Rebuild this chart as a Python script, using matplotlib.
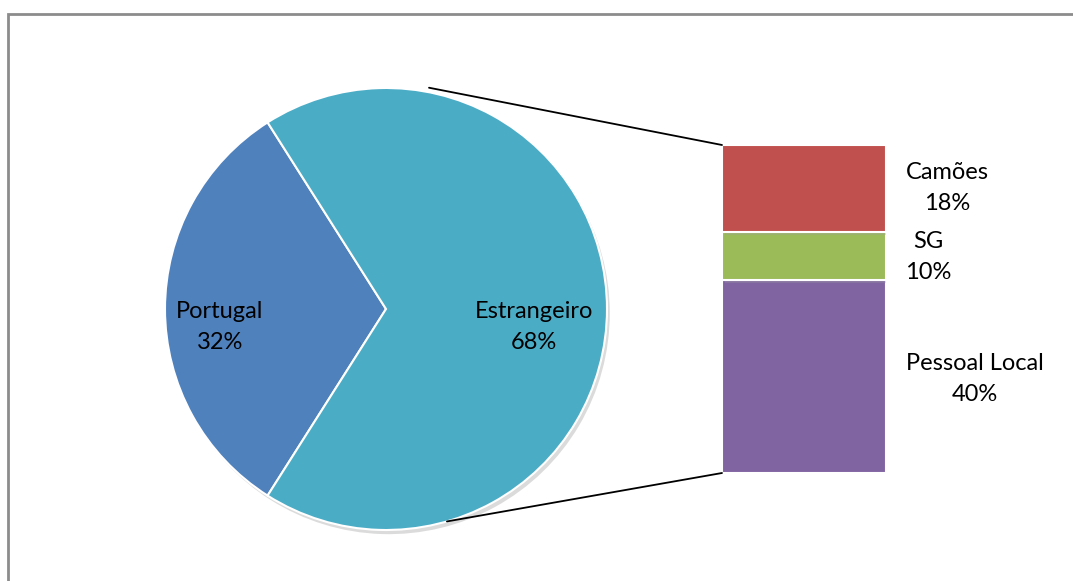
import matplotlib
matplotlib.use("Agg")
import matplotlib.pyplot as plt
import numpy as np
from matplotlib.patches import Rectangle, ConnectionPatch
import matplotlib.patheffects as pe

pie_labels = ["Portugal", "Estrangeiro"]
pie_values = [32, 68]
pie_colors = ["#4F81BD", "#4BACC6"]

bar_labels = ["Pessoal Local", "SG", "Camões"]
bar_values = [40, 10, 18]
bar_colors = ["#8064A2", "#9BBB59", "#C0504D"]

W, H = 1073, 581
fig = plt.figure(figsize=(W / 100, H / 100), dpi=100)
plt.rcParams['font.family'] = ['Lato', 'DejaVu Sans']
FS = 17
LS = 1.55

# outer frame (clipped at right/bottom like reference)
fig.patches.append(Rectangle((8 / W, 0 - 0.02), 1.1, (H - 14) / H + 0.02,
                             transform=fig.transFigure, fill=False,
                             edgecolor="#8c8c8c", linewidth=2))

# main axes in pixel coords (y up)
ax = fig.add_axes([0, 0, 1, 1])
ax.set_xlim(0, W)
ax.set_ylim(0, H)
ax.set_aspect('equal')
ax.axis('off')

cx, cy, r = 386, H - 309, 221
start = 180 - pie_values[0] / 100 * 360 / 2
wedges, _ = ax.pie(pie_values, colors=pie_colors, startangle=start,
                   counterclock=True, center=(cx, cy), radius=r,
                   wedgeprops=dict(edgecolor="white", linewidth=1.5),
                   frame=True)
for w in wedges:
    w.set_path_effects([pe.SimplePatchShadow(offset=(2, -3), shadow_rgbFace="#999999", alpha=0.35), pe.Normal()])
ax.set_xlim(0, W)
ax.set_ylim(0, H)
ax.axis('off')

ax.text(220, H - 327, f"{pie_labels[0]}\n{pie_values[0]}%", ha="center", va="center",
        fontsize=FS, linespacing=LS)
ax.text(534, H - 327, f"{pie_labels[1]}\n{pie_values[1]}%", ha="center", va="center",
        fontsize=FS, linespacing=LS)

# bar axes
bx = fig.add_axes([722 / W, (H - 473) / H, 164 / W, 328 / H])
bottom = 0
for lab, v, c in zip(bar_labels, bar_values, bar_colors):
    b = bx.bar(0, v, bottom=bottom, width=1, color=c, edgecolor="white", linewidth=1.5)
    for p in b:
        p.set_path_effects([pe.SimplePatchShadow(offset=(2, -2), shadow_rgbFace="#999999", alpha=0.3), pe.Normal()])
    bottom += v
total = sum(bar_values)
bx.set_xlim(-0.5, 0.5)
bx.set_ylim(0, total)
bx.axis('off')

# bar labels (positions in pixel coords of main axes)
label_pos = {"Camões": (947, 188), "SG": (928, 257), "Pessoal Local": (975, 379)}
for lab, v in zip(bar_labels, bar_values):
    x, y = label_pos[lab]
    ax.text(x, H - y, f"{lab}\n{v}%", ha="center", va="center", fontsize=FS, linespacing=LS)

# connector lines
a1 = np.deg2rad(79)
a2 = np.deg2rad(-74)
p1 = (cx + r * np.cos(a1) * 1.02, cy + r * np.sin(a1) * 1.02)
p2 = (cx + r * np.cos(a2), cy + r * np.sin(a2))
for p, yb in [(p1, total), (p2, 0)]:
    con = ConnectionPatch(xyA=p, coordsA=ax.transData, xyB=(-0.5, yb), coordsB=bx.transData,
                          color="black", linewidth=1.3)
    fig.add_artist(con)

fig.savefig("out.png", dpi=100)
